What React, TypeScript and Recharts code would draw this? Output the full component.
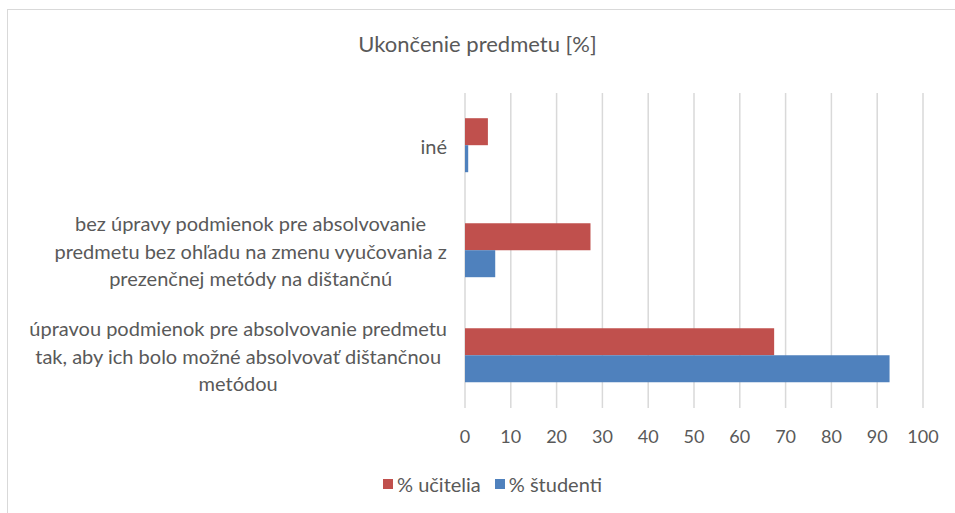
import React from "react";
import {
  BarChart,
  Bar,
  XAxis,
  YAxis,
  CartesianGrid,
} from "recharts";

const categories = [
  "iné",
  "bez úpravy podmienok pre absolvovanie predmetu bez ohľadu na zmenu vyučovania z prezenčnej metódy na dištančnú",
  "úpravou podmienok pre absolvovanie predmetu tak, aby ich bolo možné absolvovať dištančnou metódou",
];

// line breaks as they appear in the reference labels
const categoryLines = [
  ["iné"],
  [
    "bez úpravy podmienok pre absolvovanie",
    "predmetu bez ohľadu na zmenu vyučovania z",
    "prezenčnej metódy na dištančnú",
  ],
  [
    "úpravou podmienok pre absolvovanie predmetu",
    "tak, aby ich bolo možné absolvovať dištančnou",
    "metódou",
  ],
];

const ucitelia = [5.0, 27.4, 67.5];
const studenti = [0.7, 6.6, 92.7];

const xTicks = [0, 10, 20, 30, 40, 50, 60, 70, 80, 90, 100];

const data = categories.map((name, i) => ({
  name,
  ucitelia: ucitelia[i],
  studenti: studenti[i],
}));

const FONT = "Lato, 'Open Sans', sans-serif";
const TEXT = "#595959";
const RED = "#C0504D";
const BLUE = "#4F81BD";

let ctx: CanvasRenderingContext2D | null = null;
const measure = (s: string, size: number) => {
  if (!ctx) ctx = document.createElement("canvas").getContext("2d");
  if (!ctx) return s.length * size * 0.5;
  ctx.font = `${size}px Lato`;
  return ctx.measureText(s).width;
};

const CategoryTick = (props: any) => {
  const { x, y, payload } = props;
  const idx = categories.indexOf(payload.value);
  const lines = categoryLines[idx] || [payload.value];
  const size = 20;
  const lh = 27.5;
  const w = Math.max(...lines.map((l) => measure(l, size)));
  const cx = x - 10 - w / 2;
  const top = y - ((lines.length - 1) * lh) / 2;
  return (
    <g>
      {lines.map((l, i) => (
        <text
          key={i}
          x={cx}
          y={top + i * lh}
          textAnchor="middle"
          dominantBaseline="central"
          fill={TEXT}
          fontSize={size}
          fontFamily={FONT}
        >
          {l}
        </text>
      ))}
    </g>
  );
};

const LegendBox = () => (
  <div
    style={{
      position: "absolute",
      left: 30,
      top: 472,
      width: 925,
      display: "flex",
      justifyContent: "center",
      alignItems: "center",
      fontFamily: FONT,
      fontSize: 20,
      color: TEXT,
    }}
  >
    <span style={{ width: 10, height: 10, background: RED, marginRight: 4 }} />
    <span style={{ marginRight: 14 }}>% učitelia</span>
    <span style={{ width: 10, height: 10, background: BLUE, marginRight: 4 }} />
    <span>% študenti</span>
  </div>
);

export default function App() {
  return (
    <div
      style={{
        position: "absolute",
        left: 0,
        top: 0,
        width: 955,
        height: 513,
        background: "#fff",
        overflow: "hidden",
      }}
    >
      <div
        style={{
          position: "absolute",
          left: 7,
          top: 9,
          width: 960,
          height: 520,
          borderLeft: "1px solid #d9d9d9",
          borderTop: "1px solid #d9d9d9",
        }}
      />
      <div
        style={{
          position: "absolute",
          left: 0,
          top: 30,
          width: 955,
          textAlign: "center",
          fontFamily: FONT,
          fontSize: 22,
          color: TEXT,
        }}
      >
        Ukončenie predmetu [%]
      </div>
      <BarChart
        width={955}
        height={513}
        data={data}
        layout="vertical"
        margin={{ top: 93, right: 32, bottom: 75, left: 5 }}
        barCategoryGap="24%"
        barGap={0}
        style={{ position: "absolute", left: 0, top: 0 }}
      >
        <CartesianGrid horizontal={false} stroke="#d9d9d9" strokeWidth={1.5} />
        <XAxis
          type="number"
          domain={[0, 100]}
          ticks={xTicks}
          interval={0}
          height={30}
          axisLine={false}
          tickLine={false}
          tickMargin={16}
          tick={{ fill: TEXT, fontSize: 18, fontFamily: FONT }}
        />
        <YAxis
          type="category"
          dataKey="name"
          width={460}
          axisLine={false}
          tickLine={false}
          tick={<CategoryTick />}
          interval={0}
        />
        <Bar dataKey="ucitelia" name="% učitelia" fill={RED} isAnimationActive={false} />
        <Bar dataKey="studenti" name="% študenti" fill={BLUE} isAnimationActive={false} />
      </BarChart>
      <LegendBox />
    </div>
  );
}
